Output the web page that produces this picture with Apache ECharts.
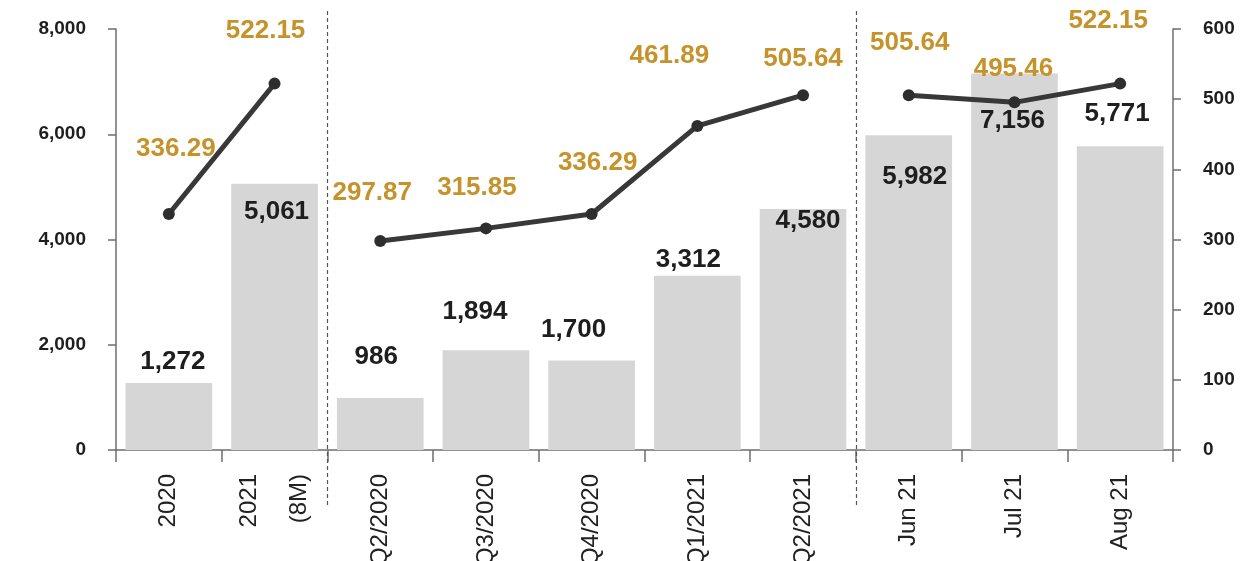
<!DOCTYPE html>
<html>
<head>
<meta charset="utf-8">
<script src="https://cdn.jsdelivr.net/npm/echarts@6/dist/echarts.min.js"></script>
<style>
  html, body { margin: 0; padding: 0; background: #fff; }
  #chart { width: 1242px; height: 561px; }
</style>
</head>
<body>
<div id="chart"></div>
<script>
// Periods on the category axis
const categories = ['2020', '2021\n(8M)', 'Q2/2020', 'Q3/2020', 'Q4/2020', 'Q1/2021', 'Q2/2021', 'Jun 21', 'Jul 21', 'Aug 21'];

// Bar values (left axis)
const barValues = [1272, 5061, 986, 1894, 1700, 3312, 4580, 5982, 7156, 5771];

// Line values (right axis)
const lineValues = [336.29, 522.15, 297.87, 315.85, 336.29, 461.89, 505.64, 505.64, 495.46, 522.15];

// The line is drawn in three separate runs: yearly, quarterly, monthly
const lineGroups = [[0, 1], [2, 6], [7, 9]];

// Axis tick values
const leftTicks = [0, 2000, 4000, 6000, 8000];
const rightTicks = [0, 100, 200, 300, 400, 500, 600];

// Label placement (pixels from bar top / point centre)
const barLabelOffsets = [[4, -21], [2, 28], [-4, -41], [-11, -39], [-18, -31], [-9, -16], [5, 12], [6, 42], [-2, 47], [-3, -32]];
const lineLabelOffsets = [[7, -65], [-9, -53], [-8, -48], [-9, -41], [6, -51], [-28, -70], [0, -36], [1, -52], [-1, -34], [-12, -63]];

const FONT = '"Liberation Sans", Arial, sans-serif';
const GOLD = '#c6922a';
const AXIS = '#6e6e6e';

const fmtInt = v => Number(v).toLocaleString('en-US');

const chart = echarts.init(document.getElementById('chart'), null, { renderer: 'canvas' });

const barData = barValues.map((v, i) => ({
  value: v,
  label: { offset: barLabelOffsets[i] }
}));

const lineSeries = lineGroups.map(([a, b]) => ({
  type: 'line',
  yAxisIndex: 1,
  data: lineValues.map((v, i) => (i >= a && i <= b) ? {
    value: v,
    label: { offset: lineLabelOffsets[i] }
  } : null),
  connectNulls: false,
  symbol: 'circle',
  symbolSize: 12,
  itemStyle: { color: '#2e2e2e' },
  lineStyle: { color: '#383838', width: 5 },
  label: {
    show: true,
    position: ['50%', '50%'],
    align: 'center',
    verticalAlign: 'middle',
    formatter: p => p.value.toFixed(2),
    color: GOLD,
    fontFamily: FONT,
    fontSize: 26,
    fontWeight: 'bold'
  },
  z: 5,
  animation: false
}));

const yAxisCommon = {
  type: 'value',
  min: 0,
  splitLine: { show: false },
  axisLine: { show: true, lineStyle: { color: AXIS, width: 1.5 } },
  axisTick: { show: true, length: 8, lineStyle: { color: AXIS, width: 1.5 } },
  axisLabel: {
    color: '#1e1e1e',
    fontFamily: FONT,
    fontSize: 19,
    fontWeight: 'bold',
    margin: 30
  }
};

chart.setOption({
  animation: false,
  backgroundColor: '#ffffff',
  grid: { left: 116, right: 69, top: 29, bottom: 111, containLabel: false, outerBoundsMode: 'none' },
  xAxis: {
    type: 'category',
    data: categories,
    axisLine: { show: true, lineStyle: { color: AXIS, width: 1.5 } },
    axisTick: { show: true, length: 12, alignWithLabel: false, lineStyle: { color: AXIS, width: 1.5 } },
    axisLabel: {
      rotate: 90,
      interval: 0,
      margin: 24,
      color: '#222',
      fontFamily: FONT,
      fontSize: 24,
      lineHeight: 50
    }
  },
  yAxis: [
    Object.assign({}, yAxisCommon, {
      max: leftTicks[leftTicks.length - 1],
      interval: leftTicks[1] - leftTicks[0],
      axisLabel: Object.assign({}, yAxisCommon.axisLabel, { formatter: v => fmtInt(v) })
    }),
    Object.assign({}, yAxisCommon, {
      position: 'right',
      max: rightTicks[rightTicks.length - 1],
      interval: rightTicks[1] - rightTicks[0]
    })
  ],
  series: [
    {
      type: 'bar',
      data: barData,
      barWidth: '82%',
      itemStyle: { color: '#d6d6d6' },
      label: {
        show: true,
        position: ['50%', 0],
        align: 'center',
        verticalAlign: 'middle',
        formatter: p => fmtInt(p.value),
        color: '#1e1e1e',
        fontFamily: FONT,
        fontSize: 26,
        fontWeight: 'bold'
      },
      z: 2
    }
  ].concat(lineSeries)
});

// Dashed separators between the yearly, quarterly and monthly blocks
function drawSeparators() {
  const yTop = chart.convertToPixel({ yAxisIndex: 0 }, leftTicks[leftTicks.length - 1]);
  const yBase = chart.convertToPixel({ yAxisIndex: 0 }, 0);
  const elements = [];
  lineGroups.slice(0, -1).forEach(([, last]) => {
    const x1 = chart.convertToPixel({ xAxisIndex: 0 }, categories[last]);
    const x2 = chart.convertToPixel({ xAxisIndex: 0 }, categories[last + 1]);
    const x = Math.round((x1 + x2) / 2) + 0.5;
    elements.push({
      type: 'line',
      shape: { x1: x, y1: yTop - 18, x2: x, y2: yBase + 57 },
      style: { stroke: '#555', lineWidth: 1.2, lineDash: [4, 3] },
      z: 10
    });
  });
  chart.setOption({ graphic: elements });
}
drawSeparators();
</script>
</body>
</html>
